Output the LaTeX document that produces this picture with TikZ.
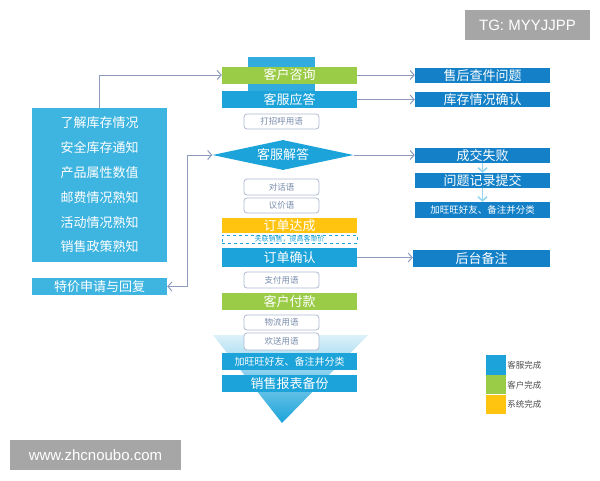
\documentclass[tikz,border=0pt]{standalone}
\usepackage{fontspec}
\usepackage{xcolor}
\usepackage{tikz}
\usetikzlibrary{shapes.geometric, arrows.meta, positioning, calc}
\newfontfamily\cjk{Noto Sans CJK SC}
\newfontfamily\wmfont{Liberation Sans}
\definecolor{servblue}{RGB}{27, 163, 218}
\definecolor{sideblue}{RGB}{20, 128, 200}
\definecolor{infoblue}{RGB}{62, 180, 224}
\definecolor{custgreen}{RGB}{155, 204, 72}
\definecolor{sysyellow}{RGB}{255, 196, 16}
\definecolor{linkgray}{RGB}{140, 155, 190}
\definecolor{hintgray}{RGB}{120, 140, 172}
\definecolor{markgray}{RGB}{166, 166, 166}

\tikzset{
    widebox/.style={fill=servblue, text=white, minimum width=135pt, minimum height=17pt, inner sep=0pt, font=\cjk\fontsize{13}{13}\selectfont},
    sidebox/.style={fill=sideblue, text=white, minimum width=135pt, minimum height=15pt, inner sep=0pt, font=\cjk\fontsize{13}{13}\selectfont},
    hintbox/.style={draw=linkgray!70, fill=white, text=hintgray, rounded corners=3pt, line width=0.8pt, minimum width=75pt, minimum height=15pt, inner sep=0pt, font=\cjk\fontsize{8.5}{8.5}\selectfont},
    link/.style={draw=linkgray, line width=1pt, -{Straight Barb[length=4pt,width=9pt]}},
    chev/.style={draw=servblue!45, line width=1.6pt, -{Straight Barb[length=4pt,width=9pt]}},
    keybox/.style={minimum width=20pt, minimum height=19pt, inner sep=0pt},
    keytext/.style={anchor=west, text=black!70, inner sep=1pt, font=\cjk\fontsize{8.5}{8.5}\selectfont},
    markbox/.style={fill=markgray, text=white, inner sep=0pt, font=\wmfont\fontsize{15}{15}\selectfont}
}

\begin{document}
\begin{tikzpicture}[x=1pt, y=-1pt]
    \useasboundingbox (0,0) rectangle (600,480);

    % background of the centre column
    \fill[servblue!90] (248,57) rectangle (315,92);
    \shade[top color=servblue!15, bottom color=servblue] (213,335) -- (368,335) -- (282,423) -- cycle;

    % centre column
    \node[widebox, fill=custgreen] (ask) at (289.5,75) {客户咨询};
    \node[widebox] (reply) at (289.5,99.5) {客服应答};
    \node[hintbox] (greet) at (281.5,121.5) {打招呼用语};
    \node[diamond, fill=servblue, text=white, inner sep=0pt, aspect=4.7, minimum width=141pt, minimum height=30pt, font=\cjk\fontsize{13}{13}\selectfont] (solve) at (283,155) {客服解答};
    \node[hintbox, minimum height=16pt] (talk) at (281.5,187) {对话语};
    \node[hintbox] (bargain) at (281.5,205.5) {议价语};
    \node[widebox, fill=sysyellow, minimum height=15pt] (deal) at (289.5,225.5) {订单达成};
    \node[draw=servblue, dashed, fill=white, text=servblue, minimum width=135pt, minimum height=8pt, inner sep=0pt, font=\cjk\fontsize{7}{7}\selectfont] (upsell) at (289.5,239) {关联销售，提高客单价};
    \node[widebox, minimum height=19pt] (confirm) at (289.5,257.5) {订单确认};
    \node[hintbox, minimum height=16pt] (payword) at (281.5,280) {支付用语};
    \node[widebox, fill=custgreen] (paid) at (289.5,301.5) {客户付款};
    \node[hintbox] (ship) at (281.5,322.5) {物流用语};
    \node[hintbox, minimum height=17pt] (bye) at (281.5,341.5) {欢送用语};
    \node[widebox, font=\cjk\fontsize{10}{10}\selectfont] (friend) at (289.5,361.5) {加旺旺好友、备注并分类};
    \node[widebox] (report) at (289.5,383.5) {销售报表备份};

    % left column
    \node[fill=infoblue, text=white, text width=135pt, minimum height=154pt, inner sep=0pt, align=center, font=\cjk\fontsize{13}{24.8}\selectfont] (info) at (99.5,185) {了解库存情况\\安全库存通知\\产品属性数值\\邮费情况熟知\\活动情况熟知\\销售政策熟知};
    \node[widebox, fill=infoblue] (special) at (99.5,286.5) {特价申请与回复};

    % right column
    \node[sidebox] (after) at (482.5,75.5) {售后查件问题};
    \node[sidebox] (stock) at (482.5,99.5) {库存情况确认};
    \node[sidebox] (fail) at (482.5,155.5) {成交失败};
    \node[sidebox] (record) at (482.5,180.5) {问题记录提交};
    \node[sidebox, minimum height=16pt, font=\cjk\fontsize{9.5}{9.5}\selectfont] (friendb) at (482.5,210) {加旺旺好友、备注并分类};
    \node[sidebox, minimum width=137pt, minimum height=17pt] (backnote) at (481.5,258.5) {后台备注};

    % connectors
    \draw[link] (info.north) |- (ask.west);
    \draw[link, {Straight Barb[length=4pt,width=9pt]}-{Straight Barb[length=4pt,width=9pt]}] (special.east) -- ++(20,0) |- (solve.west);
    \draw[link] (ask.east) -- (ask.east -| after.west);
    \draw[link] (reply.east) -- (reply.east -| stock.west);
    \draw[link] (solve.east) -- (solve.east -| fail.west);
    \draw[link] (confirm.east) -- (confirm.east -| backnote.west);
    \draw[chev] (fail.south) -- (record.north);
    \draw[chev] (record.south) -- (friendb.north);

    % legend
    \node[keybox, fill=servblue, minimum height=20pt] (keyserv) at (496,365) {};
    \node[keybox, fill=custgreen, below=0pt of keyserv] (keycust) {};
    \node[keybox, fill=sysyellow, below=0pt of keycust] (keysys) {};
    \node[keytext] at (keyserv.east) {客服完成};
    \node[keytext] at (keycust.east) {客户完成};
    \node[keytext] at (keysys.east) {系统完成};

    % watermarks
    \node[markbox, minimum width=125pt, minimum height=30pt] (tg) at (527.5,25) {TG: MYYJJPP};
    \node[markbox, minimum width=171pt, minimum height=30pt] (site) at (95.5,455) {www.zhcnoubo.com};
\end{tikzpicture}
\end{document}
